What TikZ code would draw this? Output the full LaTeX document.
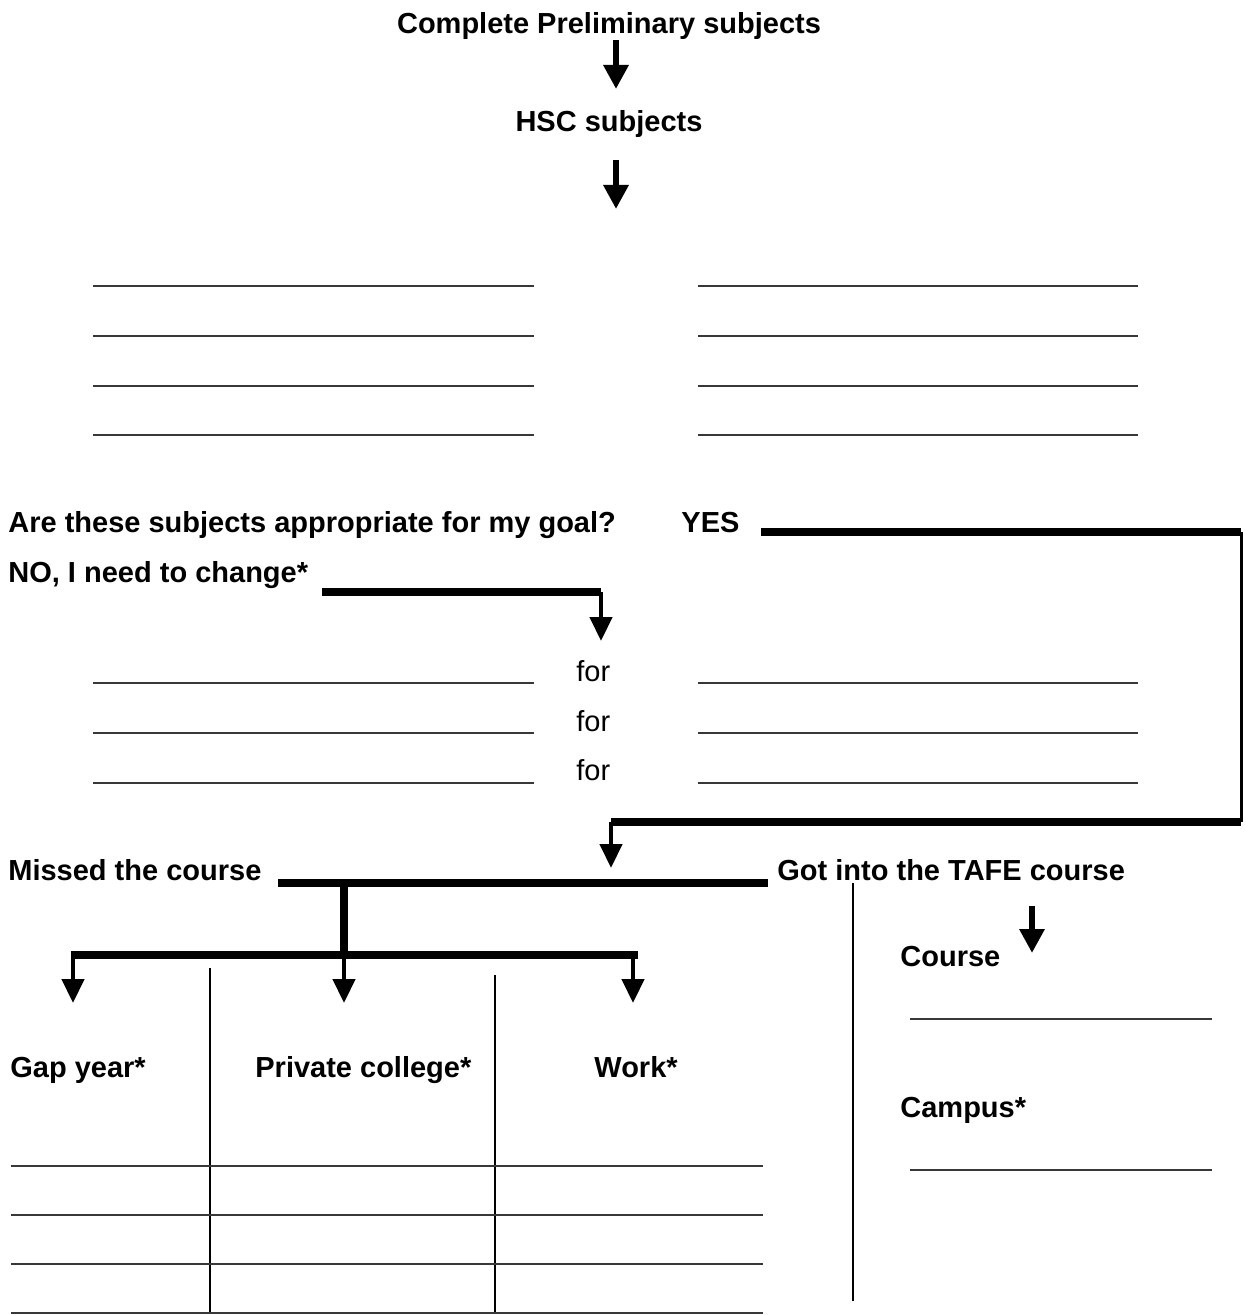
\documentclass[tikz,border=0pt]{standalone}
\usepackage{fontspec}
\setmainfont{Liberation Sans}
\usetikzlibrary{arrows.meta}
\begin{document}
\begin{tikzpicture}[x=0.5pt,y=-0.5pt,
  font=\fontsize{14.5pt}{17pt}\selectfont\bfseries,
  txt/.style={anchor=base west,inner sep=0pt},
  bar/.style={line width=3.6pt},
  arr/.style={line width=3.4pt,-{Triangle[length=12pt,width=12pt]}},
  arrthin/.style={line width=2.2pt,-{Triangle[length=12pt,width=11pt]}},
  blank/.style={line width=1pt,black!78},
  sep/.style={line width=1pt}]
\useasboundingbox (0,0) rectangle (1245,1315);
%
\node[txt,anchor=base] (prelim) at (609,34) {Complete Preliminary subjects};
\node[txt,anchor=base] (hsc) at (609,132) {HSC subjects};
\coordinate (a1) at (616,89);
\coordinate (a2s) at (616,160);
\coordinate (a2e) at (616,209);
\draw[arr] (prelim.south -| a1) -- (a1);
\draw[arr] (a2s) -- (a2e);
% blanks for subjects
\foreach \y in {286,336,386,435} {
  \draw[blank] (93,\y) -- (534,\y);
  \draw[blank] (698,\y) -- (1138,\y);
}
%
\node[txt] (goal) at (8,532) {Are these subjects appropriate for my goal?};
\node[txt] (yes) at (681,532) {YES};
\node[txt] (no) at (8,582) {NO, I need to change*};
\coordinate (ne) at (1241,532);
\coordinate (se) at (1241,822);
\coordinate (sw) at (611,822);
\coordinate (split) at (611,868);
\draw[bar] ([xshift=10.5pt,yshift=0pt]yes.base east) -- (ne);
\draw[line width=1.5pt] (ne) -- (se);
\draw[bar] (se) -- (sw);
\draw[arrthin] (sw) -- (split);
%
\coordinate (nol) at (322,592);
\coordinate (nor) at (601,592);
\coordinate (noe) at (601,641);
\draw[bar] (nol) -- (nor);
\draw[arrthin] (nor) -- (noe);
% change rows
\foreach \y/\b in {683/681,733/731,783/780} {
  \draw[blank] (93,\y) -- (534,\y);
  \draw[blank] (698,\y) -- (1138,\y);
  \node[txt,font=\fontsize{14.5pt}{17pt}\selectfont] at (576,\b) {for};
}
%
\node[txt] (missed) at (8,880) {Missed the course};
\node[txt] (got) at (777,880) {Got into the TAFE course};
\coordinate (ml) at (278,883);
\coordinate (mr) at (768,883);
\coordinate (mc) at (344,883);
\coordinate (hc) at (344,955);
\coordinate (hl) at (71,955);
\coordinate (hr) at (638,955);
\draw[line width=4pt] (ml) -- (mr);
\draw[bar] (mc) -- (hc);
\draw[bar] (hl) -- (hr);
\foreach \x in {73,344,633}
  \draw[arrthin] (\x,953) -- (\x,1003);
%
\node[txt] (gap) at (10,1077) {Gap year*};
\node[txt] (private) at (255,1077) {Private college*};
\node[txt] (work) at (594,1077) {Work*};
\draw[sep] (210,968) -- (210,1313);
\draw[sep] (495,975) -- (495,1313);
\foreach \y in {1166,1215,1264,1313}
  \draw[blank] (11,\y) -- (763,\y);
% TAFE side
\draw[sep] (853,883) -- (853,1301);
\node[txt] (course) at (900,966) {Course};
\node[txt] (campus) at (900,1117) {Campus*};
\coordinate (ts) at (1032,906);
\coordinate (te) at (1032,953);
\draw[arr] (ts) -- (te);
\draw[blank] (910,1019) -- (1212,1019);
\draw[blank] (910,1170) -- (1212,1170);
\end{tikzpicture}
\end{document}
